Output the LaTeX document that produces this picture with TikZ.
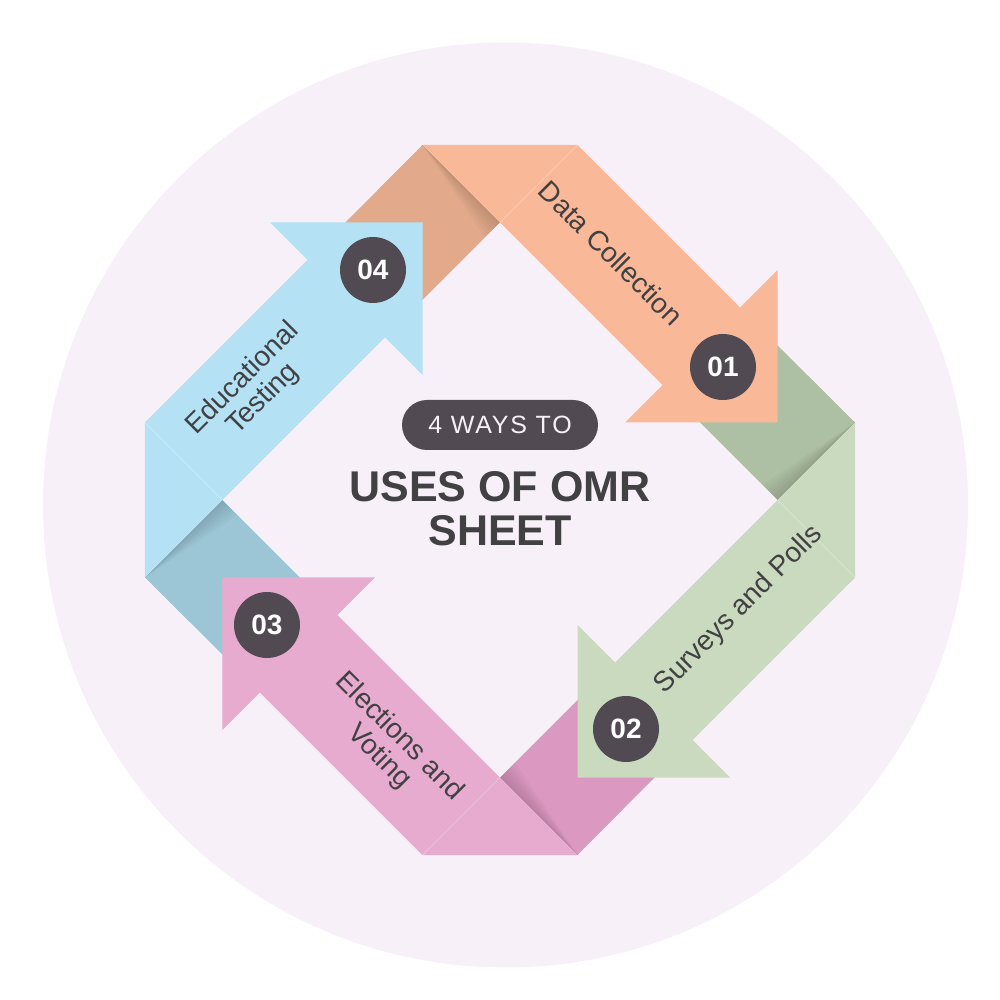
\documentclass[tikz,border=0pt]{standalone}
\usepackage{fontspec}
\setmainfont{Liberation Sans}
\usetikzlibrary{positioning}

\definecolor{circbg}{HTML}{F7F0F8}
\definecolor{orangeL}{HTML}{F9B897}
\definecolor{orangeD}{HTML}{E3A98B}
\definecolor{greenL}{HTML}{C9DABE}
\definecolor{greenD}{HTML}{AEC0A3}
\definecolor{pinkL}{HTML}{E6ABCF}
\definecolor{pinkD}{HTML}{DB98C1}
\definecolor{blueL}{HTML}{B4E2F4}
\definecolor{blueD}{HTML}{9CC6D6}
\definecolor{badgegray}{HTML}{514A53}
\definecolor{inkgray}{HTML}{414042}

\begin{document}
\begin{tikzpicture}[
    x=1pt, y=1pt,
    badge/.style={circle, fill=badgegray, text=white, minimum size=66pt, inner sep=0pt,
        font=\fontsize{28}{28}\selectfont\bfseries},
    waylabel/.style={text=inkgray, align=center, inner sep=0pt, font=\fontsize{28}{29}\selectfont},
    pill/.style={fill=badgegray, text=circbg, rounded corners=25pt, minimum width=196pt,
        minimum height=50pt, inner sep=0pt, font=\fontsize{25}{25}\selectfont\addfontfeatures{LetterSpace=7}},
    headline/.style={text=inkgray, align=center, inner sep=0pt, font=\fontsize{43}{44}\selectfont\bfseries},
]
\useasboundingbox (-500,-500) rectangle (500,500);
\fill[white] (-500,-500) rectangle (500,500);
\fill[circbg] (5.5,-5) circle (462.5);
\foreach \ang/\dark in {0/orangeD, -90/greenD, -180/pinkD, 90/blueD}{
  \begin{scope}[rotate=\ang]
    \fill[\dark] (-77.5,355) -- (0,277.5) -- (-88.75,188.75) -- (-166,266) -- cycle;
    \foreach \k in {1,...,6}
      \fill[black, opacity=0.025] (-77.5,355) -- (0,277.5) -- ({-2.5*\k},{277.5-2.5*\k}) -- cycle;
  \end{scope}
}
\foreach \ang/\lite in {0/orangeL, -90/greenL, -180/pinkL, 90/blueL}{
  \begin{scope}[rotate=\ang]
    \fill[\lite] (-77.5,355) -- (77.5,355) -- (240,192.5) -- (277.5,230) -- (277.5,77.5)
      -- (125,77.5) -- (162.5,115) -- cycle;
    \draw[white, opacity=0.4, line width=0.6pt] (77.5,355) -- (0,277.5);
  \end{scope}
}
\node[badge] (N1) at (223,133) {01};
\node[badge] (N2) at (126,-229) {02};
\node[badge] (N3) at (-233,-125) {03};
\node[badge] (N4) at (-127,230) {04};
\node[waylabel, rotate=-45] (L1) at (111,247) {Data Collection};
\node[waylabel, rotate=45] (L2) at (239,-110) {Surveys and Polls};
\node[waylabel, rotate=-45] (L3) at (-111,-247) {Elections and\\Voting};
\node[waylabel, rotate=45] (L4) at (-247,111) {Educational\\Testing};
\node[pill] (pill) at (0,75) {4 WAYS TO};
\node[headline, below=21pt of pill] (title) {USES OF OMR\\SHEET};
\end{tikzpicture}
\end{document}
